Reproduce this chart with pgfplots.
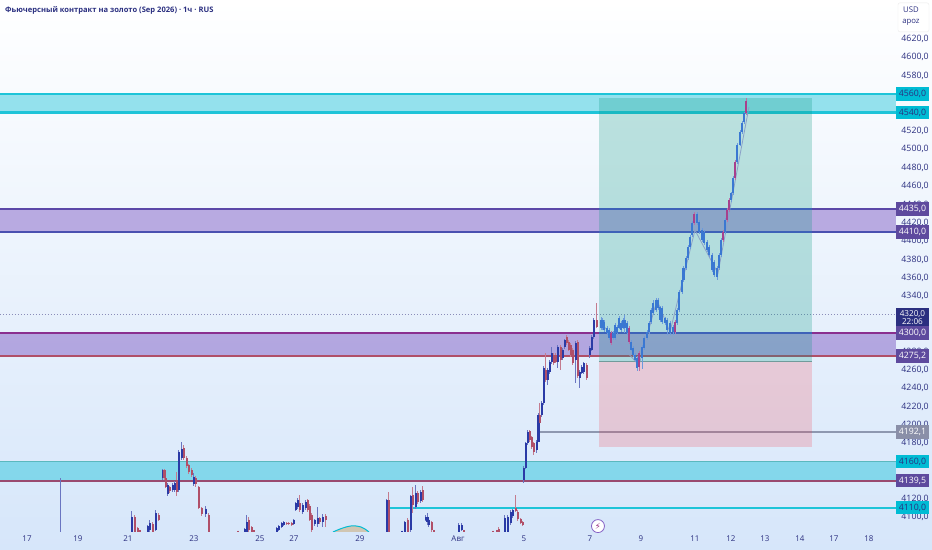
\documentclass[border=0pt]{standalone}
\usepackage{fontspec}
\setmainfont{Open Sans}
\newfontfamily\dejavu{DejaVu Sans}
\usepackage{pgfplots}
\usepackage{pgfplotstable}
\pgfplotsset{compat=1.18}
\definecolor{bgtop}{HTML}{FFFFFF}
\definecolor{bgbot}{HTML}{D6E6FA}
\definecolor{cyanb}{HTML}{00BCD4}
\definecolor{cyanl}{HTML}{1EC4D8}
\definecolor{purpb}{HTML}{673AB7}
\definecolor{navy}{HTML}{2B2F80}
\definecolor{up}{HTML}{2A3AA6}
\definecolor{down}{HTML}{B04F68}
\definecolor{uplight}{HTML}{3A78D2}
\definecolor{downlight}{HTML}{A8408C}
\definecolor{lab}{HTML}{5E4A9E}
\definecolor{labgray}{HTML}{8A8FA8}
\pgfplotstableread{
x t b h l
61 4142 4142 4142 4084
132 4100 4084 4106 4084
148 4090 4084 4091 4084
150 4093 4086 4097 4084
156 4104 4086 4108 4085
163 4151 4142 4152 4140
168 4135 4125 4137 4123
173 4135 4129 4137 4127
175 4137 4129 4139 4127
179 4171 4129 4173 4127
182 4174 4164 4182 4162
194 4143 4136 4148 4134
206 4109 4103 4112 4100
245 4087 4084 4088 4084
247 4094 4084 4102 4084
277 4088 4084 4089 4084
279 4090 4086 4091 4085
282 4093 4089 4094 4088
284 4094 4091 4095 4090
294 4097 4092 4098 4091
296 4115 4107 4116 4106
298 4118 4111 4121 4109
303 4113 4105 4115 4103
306 4116 4110 4118 4108
315 4097 4092 4098 4090
318 4099 4092 4111 4089
323 4100 4094 4103 4089
387 4118 4084 4120 4084
402 4085 4084 4085 4084
405 4094 4084 4096 4084
411 4123 4086 4124 4084
416 4126 4111 4135 4109
421 4127 4117 4129 4115
426 4100 4097 4102 4095
427.5 4100 4094 4104 4091
429 4097 4091 4098 4089
459 4091 4084 4093 4084
462 4091 4086 4093 4085
505 4099 4084 4102 4084
508 4100 4084 4102 4084
511 4105 4093 4107 4091
513 4107 4101 4109 4099
524 4153 4140 4155 4137
526 4180 4153 4181 4152
528 4192 4180 4194 4178
537 4182 4173 4184 4170
538.5 4211 4182 4213 4181
542 4224 4211 4226 4209
544 4262 4224 4264 4222
548 4260 4249 4262 4244
550 4269 4258 4271 4255
552 4278 4269 4285 4266
558 4285 4269 4287 4262
563 4282 4273 4284 4271
565 4292 4285 4294 4283
576 4289 4271 4291 4246
580 4258 4251 4260 4240
582 4263 4257 4265 4255
584 4267 4258 4269 4256
590 4284 4276 4286 4273
592 4296 4282 4298 4280
594 4314 4296 4316 4294
}\upT
\pgfplotstableread{
x t b h l
135 4100 4084 4102 4084
138 4088 4084 4089 4084
140 4086 4084 4086 4084
153 4092 4084 4094 4084
159 4102 4097 4104 4096
164.5 4151 4142 4152 4140
166 4142 4133 4143 4131
170 4133 4128 4134 4126
177 4140 4127 4149 4123
184 4175 4164 4178 4162
187 4164 4155 4166 4153
189 4156 4149 4158 4147
192 4151 4146 4153 4143
196 4142 4136 4145 4132
199 4133 4110 4134 4109
202 4110 4103 4111 4101
209 4102 4084 4104 4084
238 4085 4084 4085 4084
249 4097 4086 4100 4084
252 4089 4084 4090 4084
254 4086 4084 4086 4084
287 4093 4092 4094 4091
289 4093 4092 4094 4091
292 4093 4091 4094 4090
300 4115 4107 4124 4105
308 4118 4107 4120 4105
310 4112 4097 4114 4095
312 4102 4086 4104 4084
320 4099 4094 4100 4092
326 4101 4097 4103 4089
389 4118 4084 4127 4084
408 4097 4084 4099 4084
413 4124 4113 4133 4104
418 4126 4116 4128 4114
423 4129 4118 4134 4116
432 4094 4086 4096 4084
434 4086 4084 4086 4084
464 4086 4084 4086 4084
493 4085 4084 4085 4084
497 4086 4084 4086 4084
499 4087 4084 4089 4084
516 4110 4106 4124 4105
518 4105 4098 4107 4096
521 4098 4093 4099 4092
523 4094 4091 4095 4090
530 4193 4184 4195 4182
532 4187 4176 4188 4174
534 4180 4171 4182 4167
540 4211 4202 4224 4200
546 4260 4249 4278 4247
554 4276 4267 4278 4265
556 4276 4269 4278 4267
561 4285 4271 4287 4260
567 4296 4289 4298 4287
569 4290 4282 4292 4280
571 4287 4276 4289 4274
573 4282 4267 4284 4265
578 4290 4253 4292 4251
587 4265 4251 4267 4249
597 4314 4307 4333 4305
}\downT
\pgfplotstableread{
x t b h l
601 4314 4306 4317 4303
602.5 4314 4306 4316 4303
604 4312 4303 4314 4301
607 4306 4300 4308 4298
609 4303 4295 4305 4293
613 4300 4295 4302 4293
615 4309 4295 4311 4293
617 4307 4300 4309 4298
619 4316 4306 4319 4304
621 4311 4303 4313 4301
623 4314 4306 4316 4304
624.5 4314 4306 4320 4300
627 4311 4300 4313 4298
631 4290 4282 4292 4280
633 4284 4276 4286 4274
635 4276 4271 4278 4269
637 4273 4262 4275 4259
642 4285 4273 4287 4261
644 4295 4284 4297 4282
647 4301 4295 4303 4293
649 4311 4301 4313 4299
651 4325 4312 4327 4310
653 4333 4322 4336 4320
656 4336 4325 4338 4323
658 4336 4327 4338 4325
660 4328 4314 4330 4312
662 4327 4312 4329 4310
665 4316 4311 4318 4309
667 4314 4303 4316 4298
670 4311 4300 4313 4298
673 4307 4301 4309 4298
677 4325 4311 4327 4309
679 4345 4325 4347 4323
682 4358 4345 4360 4343
683.5 4371 4358 4373 4356
686 4382 4371 4384 4369
688 4394 4382 4396 4380
690 4405 4394 4407 4392
692 4420 4407 4422 4405
697 4430 4420 4432 4418
699 4421 4410 4423 4408
702 4412 4401 4414 4399
704 4410 4398 4412 4396
707 4399 4390 4401 4388
709 4394 4385 4396 4383
712 4385 4369 4387 4366
714 4377 4363 4379 4361
717 4371 4361 4373 4358
719 4385 4371 4387 4369
721 4401 4385 4403 4383
725 4423 4410 4425 4408
731 4452 4445 4454 4443
733 4469 4452 4471 4450
737 4505 4486 4507 4484
740 4519 4505 4521 4503
742 4529 4519 4531 4517
744 4539 4530 4541 4528
}\upL
\pgfplotstableread{
x t b h l
611 4300 4289 4302 4287
629 4306 4290 4308 4288
639 4278 4263 4280 4259
675 4312 4301 4314 4299
694 4430 4420 4432 4418
723 4410 4401 4412 4399
727 4434 4423 4436 4421
729 4445 4434 4447 4432
735 4486 4469 4488 4467
746 4553 4539 4556 4537
}\downL
\pgfplotsset{
 candles/.style 2 args={draw=none, mark=none, forget plot,
  error bars/.cd, y dir=both, y explicit, error mark=none,
  error bar style={#1, line width=#2}},
}
\newcommand{\wick}[3]{\addplot[candles={#2}{#3}] table[x=x, y=t, y error plus expr=\thisrow{h}-\thisrow{t}, y error minus expr=\thisrow{t}-\thisrow{l}]{#1};}
\newcommand{\body}[3]{\addplot[candles={#2}{#3}] table[x=x, y=t, y error plus expr=0, y error minus expr=\thisrow{t}-\thisrow{b}]{#1};}
\newcommand{\plab}[4]{\node[fill=#2, text=#3, minimum width=33bp, minimum height=13.5bp, inner sep=0pt, font=\fontsize{8.8}{9}\selectfont] at (axis cs:912.5,#1) {#4};}
\begin{document}
\begin{tikzpicture}[x=1bp,y=1bp]
\shade[top color=bgtop, bottom color=bgbot] (0,-18) rectangle (932,532);
\begin{axis}[
 at={(0,0)}, anchor=south west,
 scale only axis, width=896bp, height=532bp,
 xmin=0, xmax=896, ymin=4083.6, ymax=4662.4,
 clip mode=individual,
 axis line style={draw=none}, tick style={draw=none},
 major tick length=0pt,
 ytick pos=right, xtick pos=bottom,
 ytick={4100,4120,4180,4200,4220,4240,4260,4280,4340,4360,4380,4400,4420,4440,4460,4480,4500,4520,4580,4600,4620},
 yticklabel style={anchor=west, xshift=2bp, text=navy, font=\fontsize{8.8}{9}\selectfont,
   /pgf/number format/.cd, fixed, fixed zerofill, precision=1, use comma, 1000 sep={}, assume math mode=true},
 xtick={27,78,128,194,260,294,360,458,524,590,641,695,731,765,800,834,869},
 xticklabels={17,19,21,23,25,27,29,Авг,5,7,9,11,12,13,14,17,18},
 xticklabel style={text=navy, font=\fontsize{8}{9}\selectfont, yshift=0bp},
]
% bands
\addplot[fill=cyanb, fill opacity=.4, draw=none, forget plot] coordinates {(0,4540)(896,4540)(896,4560)(0,4560)} -- cycle;
\addplot[fill=cyanb, fill opacity=.4, draw=none, forget plot] coordinates {(0,4139.5)(896,4139.5)(896,4160)(0,4160)} -- cycle;
\addplot[fill=purpb, fill opacity=.4, draw=none, forget plot] coordinates {(0,4410)(896,4410)(896,4435)(0,4435)} -- cycle;
\addplot[fill=purpb, fill opacity=.4, draw=none, forget plot] coordinates {(0,4275.2)(896,4275.2)(896,4300)(0,4300)} -- cycle;
% arc
\addplot[fill={rgb,255:red,208;green,198;blue,178}, draw=cyanb, line width=1bp, smooth, forget plot] coordinates {(333,4083.6)(340,4086.8)(346,4089)(351,4090.1)(356,4090.1)(361,4089)(365,4086.8)(369,4083.6)};
% level lines
\addplot[cyanl, line width=2.4bp, forget plot] coordinates {(0,4560)(896,4560)};
\addplot[cyanl, line width=2.4bp, forget plot] coordinates {(0,4540)(896,4540)};
\addplot[color={rgb,255:red,91;green,72;blue,168}, line width=2bp, forget plot] coordinates {(0,4435)(896,4435)};
\addplot[color={rgb,255:red,74;green,80;blue,176}, line width=2bp, forget plot] coordinates {(0,4410)(896,4410)};
\addplot[color={rgb,255:red,138;green,47;blue,143}, line width=2.4bp, forget plot] coordinates {(0,4300)(896,4300)};
\addplot[down, line width=1.6bp, forget plot] coordinates {(0,4275.2)(896,4275.2)};
\addplot[color={rgb,255:red,142;green,152;blue,176}, line width=1.6bp, forget plot] coordinates {(539,4192.1)(896,4192.1)};
\addplot[color={rgb,255:red,90;green,184;blue,190}, line width=1.2bp, forget plot] coordinates {(0,4160)(896,4160)};
\addplot[color={rgb,255:red,154;green,74;blue,112}, line width=2bp, forget plot] coordinates {(0,4139.5)(896,4139.5)};
\addplot[cyanl, line width=2bp, forget plot] coordinates {(390,4110)(896,4110)};
\addplot[navy!55, line width=.6bp, dash pattern=on 1bp off 2bp, forget plot] coordinates {(0,4320)(896,4320)};
% candles
\wick{\upT}{up!70}{1bp}
\wick{\downT}{down!75}{1bp}
\body{\upT}{up}{2.4bp}
\body{\downT}{down}{2.4bp}
% position tool
\addplot[fill={rgb,255:red,8;green,153;blue,129}, fill opacity=.25, draw=none, forget plot] coordinates {(599,4269.6)(812,4269.6)(812,4555.8)(599,4555.8)} -- cycle;
\addplot[fill={rgb,255:red,242;green,54;blue,69}, fill opacity=.2, draw=none, forget plot] coordinates {(599,4176)(812,4176)(812,4269.6)(599,4269.6)} -- cycle;
\addplot[color={rgb,255:red,112;green,155;blue,155}, line width=.9bp, forget plot] coordinates {(599,4269.6)(812,4269.6)};
\addplot[color={rgb,255:red,62;green,98;blue,184}, line width=2bp, forget plot] coordinates {(599,4435)(812,4435)};
\addplot[color={rgb,255:red,62;green,98;blue,184}, line width=2bp, forget plot] coordinates {(599,4410)(812,4410)};
\addplot[color={rgb,255:red,62;green,98;blue,184}, line width=2bp, forget plot] coordinates {(599,4300)(812,4300)};
% projection path
\addplot[color={rgb,255:red,138;green,160;blue,200}, line width=.8bp, forget plot] coordinates {(600,4312)(639,4265)(657,4336)(670,4301)(695,4412)(718,4365)(749,4546)};
\wick{\upL}{uplight!75}{.9bp}
\wick{\downL}{downlight!75}{.9bp}
\body{\upL}{uplight}{2.2bp}
\body{\downL}{downlight}{2.2bp}
% title
\node[anchor=west, text=navy, font=\bfseries\fontsize{7.6}{9}\selectfont, inner sep=0pt] at (axis cs:5,4651.5) {Фьючерсный контракт на золото (Sep 2026) · 1ч · RUS};
% unit box
\node[draw=black!8, fill=white, rounded corners=2bp, minimum width=31bp, minimum height=29bp, inner sep=0pt] at (axis cs:913.5,4643.5) {};
\node[text=navy, font=\fontsize{7.8}{8}\selectfont] at (axis cs:911,4652) {USD};
\node[text=navy, font=\fontsize{7.8}{8}\selectfont] at (axis cs:911,4638) {apoz};
% price labels
\plab{4560}{cyanb}{navy}{4560,0}
\plab{4540}{cyanb}{navy}{4540,0}
\plab{4435}{lab}{white}{4435,0}
\plab{4410}{lab}{white}{4410,0}
\node[fill=navy, text=white, minimum width=33bp, minimum height=19bp, inner sep=0pt, align=center, font=\fontsize{8.2}{8.6}\selectfont] at (axis cs:912.5,4316.5) {4320,0\\[-.5pt]22:06};
\plab{4300}{lab}{white}{4300,0}
\plab{4275.2}{lab}{white}{4275,2}
\plab{4192.1}{labgray}{white}{4192,1}
\plab{4160}{cyanb}{navy}{4160,0}
\plab{4139.5}{lab}{white}{4139,5}
\plab{4110}{cyanb}{navy}{4110,0}
% replay marker
\node[circle, draw=purpb!80, fill=white, line width=.8bp, minimum size=13bp, inner sep=0pt, text=purpb!70!red, font=\dejavu\fontsize{8.5}{9}\selectfont] at (axis cs:598,4090) {⚡};
\end{axis}
\end{tikzpicture}
\end{document}
